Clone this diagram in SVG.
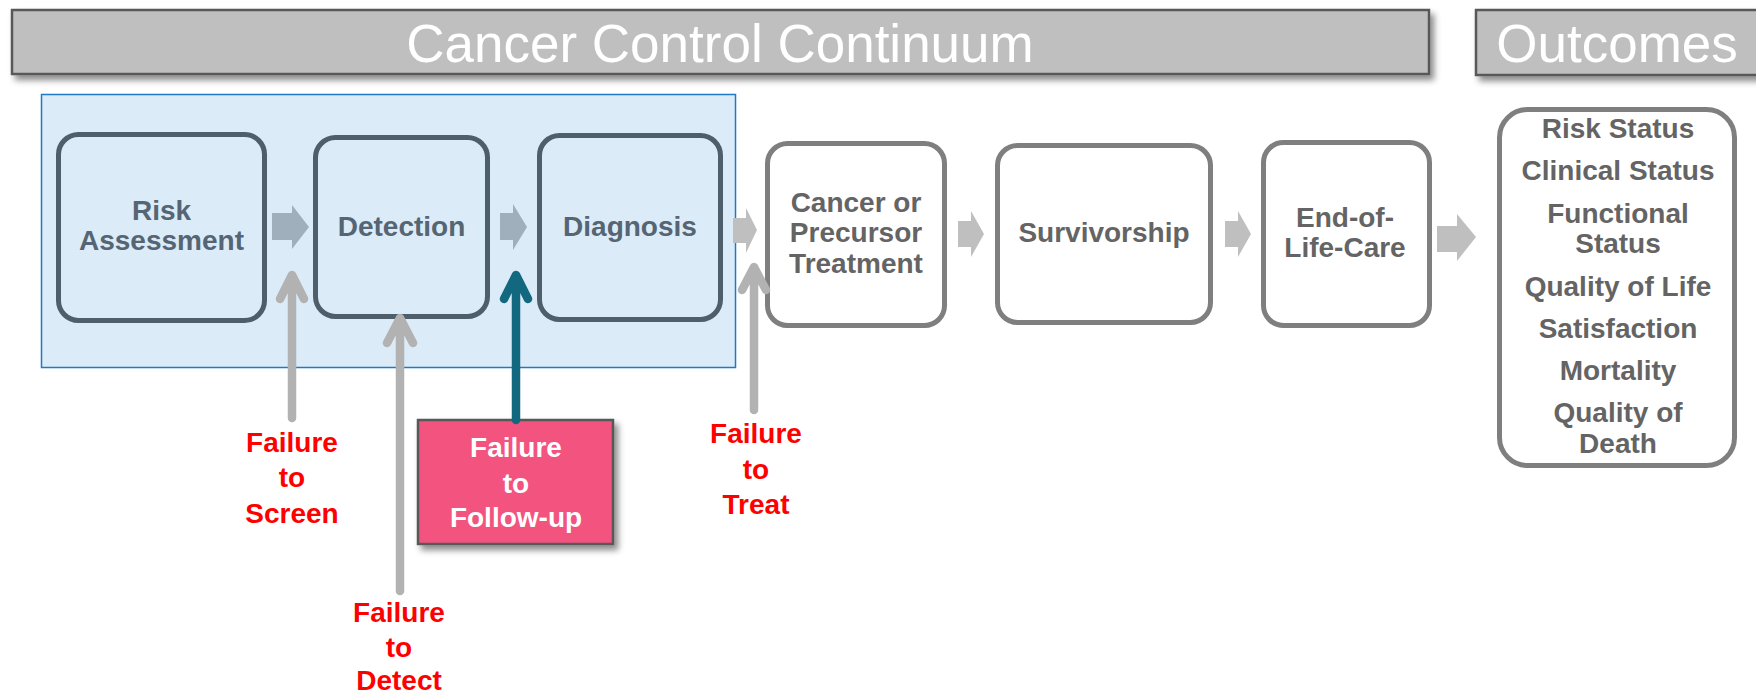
<svg xmlns="http://www.w3.org/2000/svg" width="1756" height="694" viewBox="0 0 1756 694">
<defs>
<filter id="sh" x="-5%" y="-10%" width="115%" height="140%">
<feDropShadow dx="4" dy="5" stdDeviation="3" flood-color="#000" flood-opacity="0.45"/>
</filter>
</defs>
<style>
text{font-family:"Liberation Sans",Arial,sans-serif;text-anchor:middle}
.hdr{fill:#bfbfbf;stroke:#595959;stroke-width:2.5}
.hdrt{fill:#fff;font-size:53px}
.bn{fill:#dbebf7;stroke:#4e5f6b;stroke-width:5}
.bt{fill:#556574;font-size:28px;font-weight:bold}
.gn{fill:#fff;stroke:#7f7f7f;stroke-width:5}
.gt{fill:#646464;font-size:28px;font-weight:bold}
.lt{fill:#646464;font-size:28px;font-weight:bold}
.red{fill:#ff0000;font-size:28px;font-weight:bold}
.wt{fill:#fff;font-size:28px;font-weight:bold}
.ba{fill:#9fb0bc}
.ga{fill:#bfbfbf}
.thin{fill:none;stroke:#b2b2b2;stroke-width:8.5;stroke-linecap:round;stroke-linejoin:round}
.teal{fill:none;stroke:#12687f;stroke-width:8.5;stroke-linecap:round;stroke-linejoin:round}
</style>

<g id="header-continuum">
<rect class="hdr" x="12" y="10" width="1417" height="64" filter="url(#sh)"/>
<text class="hdrt" x="720" y="62">Cancer Control Continuum</text>
</g>
<g id="header-outcomes">
<rect class="hdr" x="1476" y="10" width="290" height="65" filter="url(#sh)"/>
<text class="hdrt" x="1617" y="62">Outcomes</text>
</g>

<g id="highlight-region">
<rect x="41.5" y="94.5" width="694" height="273" fill="#dbebf7" stroke="#1f78c8" stroke-width="1.5"/>
</g>

<g id="node-risk">
<rect class="bn" x="58.5" y="134.5" width="206" height="186" rx="20"/>
<text class="bt" x="161.5" y="220">Risk</text>
<text class="bt" x="161.5" y="250">Assessment</text>
</g>
<g id="node-detection">
<rect class="bn" x="315.5" y="137.5" width="172" height="179" rx="20"/>
<text class="bt" x="401.5" y="236">Detection</text>
</g>
<g id="node-diagnosis">
<rect class="bn" x="539.5" y="135.5" width="181" height="184" rx="20"/>
<text class="bt" x="630" y="236">Diagnosis</text>
</g>
<g id="node-treatment">
<rect class="gn" x="767.5" y="143.5" width="177" height="182" rx="20"/>
<text class="gt" x="856" y="212">Cancer or</text>
<text class="gt" x="856" y="242">Precursor</text>
<text class="gt" x="856" y="273">Treatment</text>
</g>
<g id="node-survivorship">
<rect class="gn" x="997.5" y="145.5" width="213" height="177" rx="20"/>
<text class="gt" x="1104" y="242">Survivorship</text>
</g>
<g id="node-eol">
<rect class="gn" x="1263.5" y="142.5" width="166" height="183" rx="20"/>
<text class="gt" x="1345" y="227">End-of-</text>
<text class="gt" x="1345" y="257">Life-Care</text>
</g>
<g id="node-outcomes">
<rect class="gn" x="1499.5" y="109.5" width="235" height="356" rx="28"/>
<text class="lt" x="1618" y="138">Risk Status</text>
<text class="lt" x="1618" y="180">Clinical Status</text>
<text class="lt" x="1618" y="223">Functional</text>
<text class="lt" x="1618" y="253">Status</text>
<text class="lt" x="1618" y="296">Quality of Life</text>
<text class="lt" x="1618" y="338">Satisfaction</text>
<text class="lt" x="1618" y="380">Mortality</text>
<text class="lt" x="1618" y="422">Quality of</text>
<text class="lt" x="1618" y="453">Death</text>
</g>

<g id="node-followup">
<rect x="418" y="420" width="195" height="124" fill="#f2527f" stroke="#595959" stroke-width="2.5" filter="url(#sh)"/>
<text class="wt" x="516" y="457">Failure</text>
<text class="wt" x="516" y="493">to</text>
<text class="wt" x="516" y="527">Follow-up</text>
</g>

<g id="label-screen">
<text class="red" x="292" y="452">Failure</text>
<text class="red" x="292" y="487">to</text>
<text class="red" x="292" y="523">Screen</text>
</g>
<g id="label-detect">
<text class="red" x="399" y="622">Failure</text>
<text class="red" x="399" y="657">to</text>
<text class="red" x="399" y="690">Detect</text>
</g>
<g id="label-treat">
<text class="red" x="756" y="443">Failure</text>
<text class="red" x="756" y="479">to</text>
<text class="red" x="756" y="514">Treat</text>
</g>

<g id="connectors">
<polygon class="ba" points="272,213 292,213 292,205 309,227 292,249 292,240 272,240"/>
<polygon class="ba" points="500,213 513,213 513,204 527,227 513,250 513,240 500,240"/>
<polygon class="ga" points="733,218 746,218 746,208 757,230 746,253 746,243 733,243"/>
<polygon class="ga" points="958,221 971,221 971,211 984,234 971,257 971,247 958,247"/>
<polygon class="ga" points="1225,221 1238,221 1238,211 1251,234 1238,257 1238,247 1225,247"/>
<polygon class="ga" points="1437,226 1457,226 1457,214 1476,237 1457,261 1457,252 1437,252"/>
<path class="thin" d="M292,418 V276 M280,299 L292,275 L304,299" stroke-linecap="butt"/>
<path class="thin" d="M400,591 V320 M387,343 L400,318 L413,343"/>
<path class="teal" d="M516,420 V276 M504,299 L516,275 L528,299"/>
<path class="thin" d="M754,410 V268 M742,290 L754,267 L766,290"/>
</g>
</svg>
